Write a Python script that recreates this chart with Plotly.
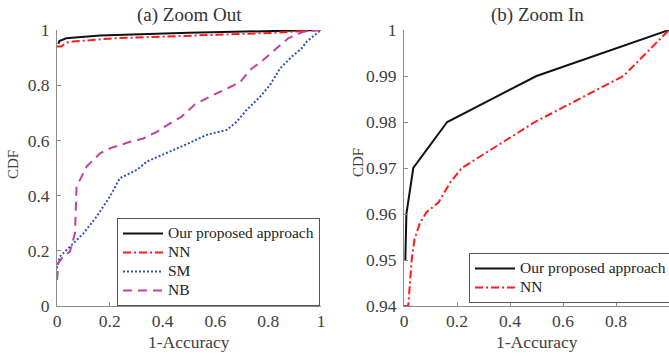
import plotly.graph_objects as go

# ---- data ----
ours_x = [0.005, 0.009, 0.035, 0.163, 0.50, 1.0]
ours_y = [0.95, 0.96, 0.97, 0.98, 0.99, 1.0]

nn_x = [0, 0.016, 0.029, 0.04, 0.06, 0.085, 0.13, 0.175, 0.218, 0.494, 0.828, 1.0]
nn_y = [0.94, 0.94, 0.95, 0.9546, 0.958, 0.9604, 0.9625, 0.9669, 0.97, 0.98, 0.99, 1.0]

sm_x = [0, 0.011, 0.049, 0.1, 0.15, 0.2, 0.238, 0.302, 0.34, 0.415, 0.479, 0.567,
        0.643, 0.681, 0.718, 0.769, 0.807, 0.845, 0.889, 0.927, 0.946, 1.0]
sm_y = [0.137, 0.179, 0.215, 0.263, 0.324, 0.396, 0.463, 0.493, 0.523, 0.553, 0.581, 0.620,
        0.638, 0.668, 0.710, 0.758, 0.801, 0.861, 0.903, 0.934, 0.958, 1.0]

nb_x = [0, 0.005, 0.018, 0.049, 0.068, 0.074, 0.087, 0.112, 0.163, 0.2, 0.277, 0.327,
        0.378, 0.428, 0.472, 0.523, 0.586, 0.643, 0.693, 0.731, 0.781, 0.832, 0.876, 0.933, 1.0]
nb_y = [0.094, 0.155, 0.173, 0.197, 0.263, 0.432, 0.457, 0.505, 0.553, 0.571, 0.595, 0.607,
        0.631, 0.662, 0.686, 0.731, 0.762, 0.789, 0.810, 0.855, 0.891, 0.934, 0.970, 0.994, 1.0]

series_names = ["Our proposed approach", "NN", "SM", "NB"]

left_yticks = [0, 0.2, 0.4, 0.6, 0.8, 1]
left_yticktext = ["0", "0.2", "0.4", "0.6", "0.8", "1"]
right_yticks = [0.94, 0.95, 0.96, 0.97, 0.98, 0.99, 1]
right_yticktext = ["0.94", "0.95", "0.96", "0.97", "0.98", "0.99", "1"]
xticks = [0, 0.2, 0.4, 0.6, 0.8, 1]
xticktext = ["0", "0.2", "0.4", "0.6", "0.8", "1"]

W, H = 669, 356
FONT = "Liberation Serif"
BLACK = "#111111"
RED = "#ff1a1a"
BLUE = "#3350b8"
MAG = "#c040a8"
AXC = "#8a8a8a"
TXT = "#404040"


def lname(s):
    return '<span style="font-size:15.5px">' + s + '</span>'


fig = go.Figure()

# left panel
fig.add_trace(go.Scatter(x=ours_x, y=ours_y, mode="lines", name=lname(series_names[0]),
                         line=dict(color=BLACK, width=2), xaxis="x", yaxis="y", legend="legend"))
fig.add_trace(go.Scatter(x=nn_x, y=nn_y, mode="lines", name=lname(series_names[1]),
                         line=dict(color=RED, width=2, dash="8px,3px,2px,3px"), xaxis="x", yaxis="y", legend="legend"))
fig.add_trace(go.Scatter(x=sm_x, y=sm_y, mode="lines", name=lname(series_names[2]),
                         line=dict(color=BLUE, width=2, dash="2px,2px"), xaxis="x", yaxis="y", legend="legend"))
fig.add_trace(go.Scatter(x=nb_x, y=nb_y, mode="lines", name=lname(series_names[3]),
                         line=dict(color=MAG, width=2, dash="9px,6px"), xaxis="x", yaxis="y", legend="legend"))
# right panel
fig.add_trace(go.Scatter(x=ours_x, y=ours_y, mode="lines", name=lname(series_names[0]),
                         line=dict(color=BLACK, width=2), xaxis="x2", yaxis="y2", legend="legend2"))
fig.add_trace(go.Scatter(x=nn_x, y=nn_y, mode="lines", name=lname(series_names[1]),
                         line=dict(color=RED, width=2, dash="8px,3px,2px,3px"), xaxis="x2", yaxis="y2", legend="legend2"))

ydom = [1 - 306 / H, 1 - 30 / H]
axis_common = dict(showline=True, linecolor=AXC, linewidth=1, mirror=False, ticks="inside",
                   ticklen=4, tickcolor=AXC, showgrid=False, zeroline=False, automargin=False,
                   tickfont=dict(family=FONT, size=17.5, color=TXT))

legend_common = dict(xanchor="left", yanchor="top", bgcolor="white", bordercolor="#555555",
                     borderwidth=1, font=dict(family=FONT, size=11.5, color="#222222"),
                     itemwidth=40, tracegroupgap=0)

fig.update_layout(
    width=W, height=H, margin=dict(l=0, r=0, t=0, b=0, autoexpand=False),
    paper_bgcolor="white", plot_bgcolor="white",
    font=dict(family=FONT, color=TXT),
    xaxis=dict(domain=[57 / W, 321 / W], range=[0, 1], tickvals=xticks, ticktext=xticktext,
               anchor="y", ticklabelstandoff=-1, **axis_common),
    yaxis=dict(domain=ydom, range=[0, 1], tickvals=left_yticks, ticktext=left_yticktext,
               anchor="x", ticklabelstandoff=3, **axis_common),
    xaxis2=dict(domain=[404 / W, 1.0], range=[0, 1], tickvals=xticks, ticktext=xticktext,
                anchor="y2", ticklabelstandoff=-1, **axis_common),
    yaxis2=dict(domain=ydom, range=[0.94, 1], tickvals=right_yticks, ticktext=right_yticktext,
                anchor="x2", ticklabelstandoff=3, **axis_common),
    legend=dict(x=117 / W, y=1 - 218 / H, **legend_common),
    legend2=dict(x=469 / W, y=1 - 253 / H, **legend_common),
    showlegend=True,
)

ann = []
ann.append(dict(text="(a) Zoom Out", x=189 / W, y=1 - 15 / H, xref="paper", yref="paper",
                showarrow=False, font=dict(family=FONT, size=19, color="#333333"),
                xanchor="center", yanchor="middle"))
ann.append(dict(text="(b) Zoom In", x=537 / W, y=1 - 15 / H, xref="paper", yref="paper",
                showarrow=False, font=dict(family=FONT, size=19, color="#333333"),
                xanchor="center", yanchor="middle"))
for cx in (189, 537):
    ann.append(dict(text="1-Accuracy", x=cx / W, y=1 - 342 / H, xref="paper", yref="paper",
                    showarrow=False, font=dict(family=FONT, size=17.5, color=TXT),
                    xanchor="center", yanchor="middle"))
for cx, cy in ((13, 164), (358, 162)):
    ann.append(dict(text="CDF", x=cx / W, y=1 - cy / H, xref="paper", yref="paper",
                    showarrow=False, textangle=-90, font=dict(family=FONT, size=15, color=TXT),
                    xanchor="center", yanchor="middle"))
fig.update_layout(annotations=ann)

fig.write_html("out.html", config={"displayModeBar": False},
               post_script="document.body.style.margin='0px';document.body.style.overflow='hidden';")
